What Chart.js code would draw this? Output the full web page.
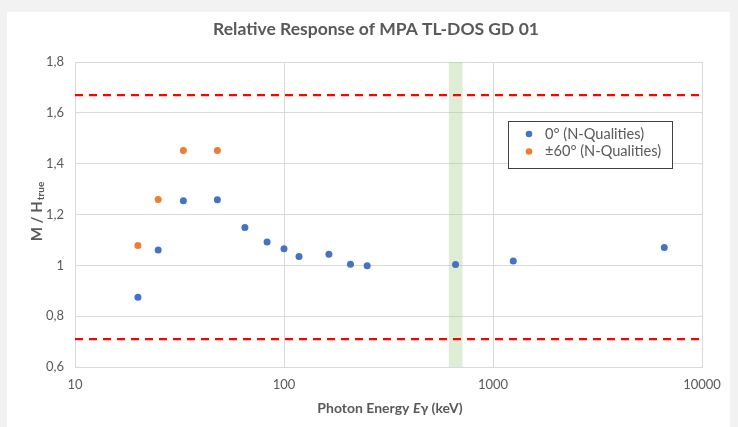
<!DOCTYPE html>
<html>
<head>
<meta charset="utf-8">
<script src="https://cdn.jsdelivr.net/npm/chart.js@4"></script>
<style>
  html, body { margin: 0; padding: 0; background: #f2f2f2; }
  #wrap { position: relative; width: 738px; height: 427px; }
  #panel { position: absolute; left: 7px; top: 12px; width: 723px; height: 415px; background: #fff; }
  #c { position: absolute; left: 0; top: 0; }
</style>
</head>
<body>
<div id="wrap">
  <div id="panel"></div>
  <canvas id="c" width="738" height="427"></canvas>
</div>
<script>
const titleText = "Relative Response of MPA TL-DOS GD 01"

// photon energies in keV
const energy0 = [20, 25, 33, 48, 65, 83, 100, 118, 164, 208, 250, 662, 1250, 6600]
const resp0 = [0.874, 1.060, 1.254, 1.258, 1.149, 1.092, 1.065, 1.035, 1.044, 1.004, 0.998, 1.003, 1.017, 1.070]
const energy60 = [20, 25, 33, 48]
const resp60 = [1.078, 1.259, 1.452, 1.452]

const limitLow = 0.71
const limitHigh = 1.67
const bandRange = [615, 715]

const xTicks = [10, 100, 1000, 10000]
const yMin = 0.6, yMax = 1.8, yStep = 0.2

const labels = ["0° (N-Qualities)", "±60° (N-Qualities)"]
const colors = ["#4472c4", "#ed7d31"]

const grey = "#595959"
const font = "Lato, 'Open Sans', sans-serif"

const toPts = (xs, ys) => xs.map((x, i) => ({x: x, y: ys[i]}))

const limitLine = (v) => ({
    type: 'line',
    data: [{x: xTicks[0], y: v}, {x: xTicks[xTicks.length-1], y: v}],
    borderColor: '#ff0000',
    borderWidth: 2.2,
    borderDash: [8, 6],
    pointRadius: 0,
    fill: false
})

const extras = {
    id: 'extras',
    beforeDatasetsDraw(chart){
        const {ctx, chartArea, scales} = chart
        const x1 = scales.x.getPixelForValue(bandRange[0])
        const x2 = scales.x.getPixelForValue(bandRange[1])
        ctx.save()
        ctx.fillStyle = 'rgba(169, 208, 142, 0.38)'
        ctx.fillRect(x1, chartArea.top, x2 - x1, chartArea.bottom - chartArea.top)
        ctx.restore()
    },
    afterDraw(chart){
        const {ctx} = chart
        ctx.save()
        ctx.fillStyle = grey
        ctx.textBaseline = 'middle'

        // title
        ctx.textAlign = 'center'
        ctx.font = "bold 17.5px " + font
        ctx.fillText(titleText, 376, 29)

        // x axis title with italic E
        const p1 = "Photon Energy ", p3 = "γ (keV)"
        ctx.font = "bold 14px " + font
        const w1 = ctx.measureText(p1).width, w3 = ctx.measureText(p3).width
        ctx.font = "italic bold 14px " + font
        const w2 = ctx.measureText("E").width
        let sx = 390 - (w1 + w2 + w3) / 2
        ctx.textAlign = 'left'
        ctx.font = "bold 14px " + font
        ctx.fillText(p1, sx, 408)
        ctx.font = "italic bold 14px " + font
        ctx.fillText("E", sx + w1, 408)
        ctx.font = "bold 14px " + font
        ctx.fillText(p3, sx + w1 + w2, 408)

        // y axis title M / H_true
        ctx.translate(37, 212)
        ctx.rotate(-Math.PI / 2)
        ctx.font = "bold 15px " + font
        const m = "M / H"
        const wm = ctx.measureText(m).width
        ctx.font = "bold 10px " + font
        const ws = ctx.measureText("true").width
        let ty = -(wm + ws) / 2
        ctx.font = "bold 15px " + font
        ctx.fillText(m, ty, 0)
        ctx.font = "bold 10px " + font
        ctx.fillText("true", ty + wm + 1, 4)
        ctx.restore()

        // legend
        ctx.save()
        ctx.strokeStyle = '#404040'
        ctx.lineWidth = 1
        ctx.fillStyle = '#fff'
        ctx.fillRect(508.5, 121.5, 164, 47)
        ctx.strokeRect(508.5, 121.5, 164, 47)
        ctx.font = "14.6px " + font
        ctx.textAlign = 'left'
        ctx.textBaseline = 'middle'
        labels.forEach((l, i) => {
            const y = 134 + i * 17.5
            ctx.fillStyle = colors[i]
            ctx.beginPath()
            ctx.arc(529, y, 3.3, 0, Math.PI * 2)
            ctx.fill()
            ctx.fillStyle = grey
            ctx.fillText(l, 545, y)
        })
        ctx.restore()
    }
}

new Chart(document.getElementById('c'), {
    type: 'scatter',
    data: {
        datasets: [
            limitLine(limitHigh),
            limitLine(limitLow),
            {
                label: labels[0],
                data: toPts(energy0, resp0),
                backgroundColor: colors[0],
                borderColor: colors[0],
                pointRadius: 3.5,
                borderWidth: 0
            },
            {
                label: labels[1],
                data: toPts(energy60, resp60),
                backgroundColor: colors[1],
                borderColor: colors[1],
                pointRadius: 3.5,
                borderWidth: 0
            }
        ]
    },
    options: {
        responsive: false,
        animation: false,
        layout: { padding: { left: 0, top: 62, right: 36, bottom: 0 } },
        plugins: {
            legend: { display: false },
            title: { display: false },
            tooltip: { enabled: false }
        },
        scales: {
            x: {
                type: 'logarithmic',
                min: xTicks[0],
                max: xTicks[xTicks.length-1],
                afterBuildTicks: (scale) => { scale.ticks = xTicks.map(v => ({value: v})) },
                afterFit: (scale) => { scale.height = 60 },
                grid: { color: '#d9d9d9', drawTicks: false },
                border: { color: '#d9d9d9' },
                ticks: {
                    padding: 10,
                    color: grey,
                    font: { family: font, size: 13 },
                    maxRotation: 0,
                    autoSkip: false,
                    callback: (v) => String(v)
                }
            },
            y: {
                min: yMin,
                max: yMax,
                afterFit: (scale) => { scale.width = 75 },
                grid: { color: '#d9d9d9', drawTicks: false },
                border: { color: '#d9d9d9' },
                ticks: {
                    stepSize: yStep,
                    padding: 11,
                    color: grey,
                    font: { family: font, size: 13 },
                    callback: (v) => String(Math.round(v * 10) / 10).replace('.', ',')
                }
            }
        }
    },
    plugins: [extras]
})
</script>
</body>
</html>
